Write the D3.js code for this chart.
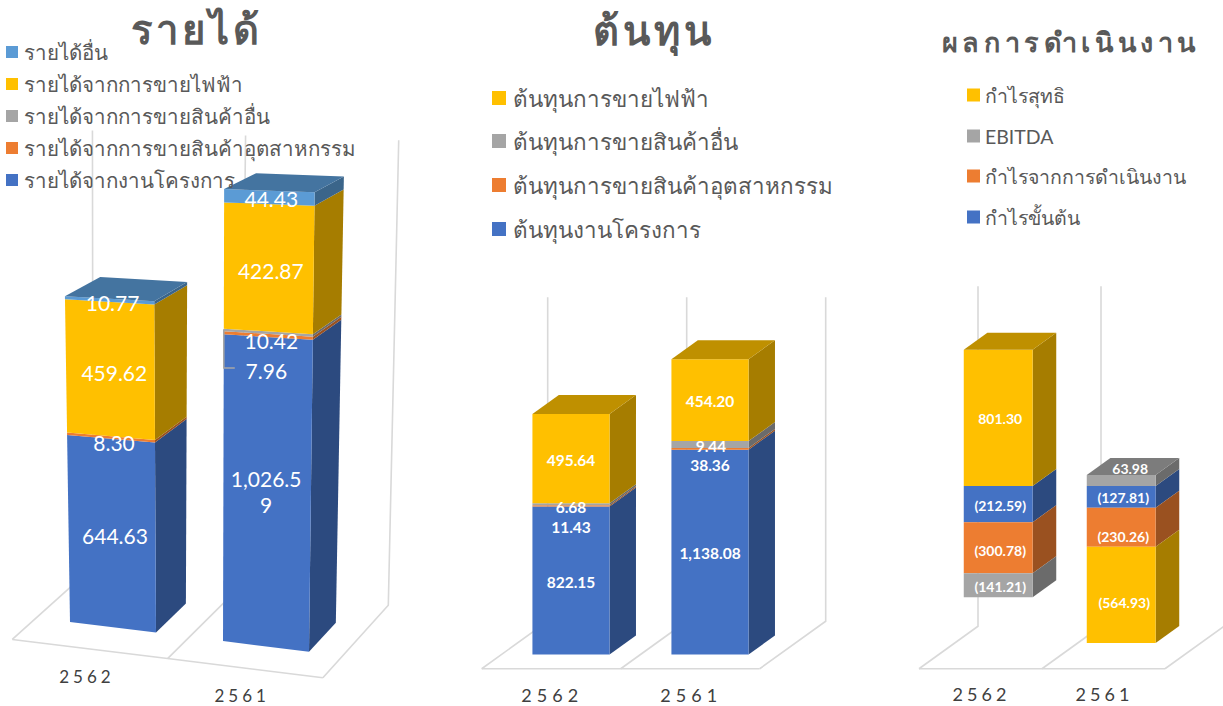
<!DOCTYPE html>
<html>
<head>
<meta charset="utf-8">
<script src="https://cdnjs.cloudflare.com/ajax/libs/d3/7.8.5/d3.min.js"></script>
<style>
body { margin: 0; background: #fff; }
text { font-family: Lato, "Noto Sans", sans-serif; }
</style>
</head>
<body>
<svg id="chart" width="1223" height="706"></svg>
<script>
var years = ["2562", "2561"];

// revenue panel
var revenueNames  = ["รายได้จากงานโครงการ", "รายได้จากการขายสินค้าอุตสาหกรรม", "รายได้จากการขายสินค้าอื่น", "รายได้จากการขายไฟฟ้า", "รายได้อื่น"];
var revenueProject  = [644.63, 1026.59];
var revenueIndustry = [8.30, 10.42];
var revenueGoods    = [0, 7.96];
var revenuePower    = [459.62, 422.87];
var revenueOther    = [10.77, 44.43];

// cost panel
var costNames = ["ต้นทุนงานโครงการ", "ต้นทุนการขายสินค้าอุตสาหกรรม", "ต้นทุนการขายสินค้าอื่น", "ต้นทุนการขายไฟฟ้า"];
var costProject  = [822.15, 1138.08];
var costIndustry = [6.68, 9.44];
var costGoods    = [11.43, 38.36];
var costPower    = [495.64, 454.20];

// results panel
var resultNames = ["กำไรขั้นต้น", "กำไรจากการดำเนินงาน", "EBITDA", "กำไรสุทธิ"];
var resultGross  = [-212.59, -127.81];
var resultOper   = [-300.78, -230.26];
var resultEbitda = [-141.21, 63.98];
var resultNet    = [801.30, -564.93];

var BLUE = "#4472c4", ORANGE = "#ed7d31", GRAY = "#a5a5a5", YELLOW = "#ffc000", SKY = "#5b9bd5";

var panels = [
    { title: "รายได้", titleX: 197, titleY: 44, titleSize: 40, titleSpacing: 4,
      names: revenueNames, series: [revenueProject, revenueIndustry, revenueGoods, revenuePower, revenueOther],
      colors: [BLUE, ORANGE, GRAY, YELLOW, SKY],
      domain: [0, 1600], height: 464, xRange: [36.5, 342.5], barFrac: 0.562,
      y0: 622, xRef: 71, slope: 0.125, stretch: 0.0002, lean: 0.000119, leanFade: 0.2, xv: 201, xvShift: -85,
      dx: 31.6, dxTilt: -0.02, dy: -29, dyH: 0.03,
      labelSize: 21, labelWeight: 400, wrapAt: 7,
      nudge: [[[3, 3], [3, 5], [0, 0], [4, 3], [3, 2]], [[-1, 0], [3, 5], [-2, 38], [2, 3], [2, 1]]],
      yearOff: [-3, 27], yearSize: 17, yearSpacing: 4,
      legend: { x: 6, box: 12, textX: 24, size: 20.5, ys: [52, 84, 116, 148, 180] } },
    { title: "ต้นทุน", titleX: 654, titleY: 45, titleSize: 40, titleSpacing: 4,
      names: costNames, series: [costProject, costIndustry, costGoods, costPower],
      colors: [BLUE, ORANGE, GRAY, YELLOW],
      domain: [0, 1800], height: 324, xRange: [501.5, 779.5], barFrac: 0.555,
      y0: 654.5, xRef: 501, slope: 0, stretch: 0, lean: 0, leanFade: 0, xv: 0, xvShift: 0,
      dx: 26.4, dxTilt: 0, dy: -19, dyH: 0,
      labelSize: 15.5, labelWeight: 700, wrapAt: 99,
      nudge: [[[0, 1], [0, 1], [0, 23], [0, 1]], [[0, 1], [1, -3], [0, 21], [0, 1]]],
      yearOff: [1, 26], yearSize: 18, yearSpacing: 5,
      legend: { x: 492, box: 14, textX: 513, size: 22.4, ys: [98, 141, 185, 229] } },
    { title: "ผลการดำเนินงาน", titleX: 1071, titleY: 52, titleSize: 27, titleSpacing: 4.6,
      names: resultNames, series: [resultGross, resultOper, resultEbitda, resultNet],
      colors: [BLUE, ORANGE, GRAY, YELLOW],
      domain: [-1000, 1000], height: 340, xRange: [936.7, 1182.7], barFrac: 0.56,
      y0: 656, xRef: 936, slope: 0, stretch: 0, lean: 0, leanFade: 0, xv: 0, xvShift: 0,
      dx: 23.6, dxTilt: 0, dy: -17, dyH: 0,
      labelSize: 14, labelWeight: 700, wrapAt: 99,
      nudge: [[[2, 1], [2, 3], [2, 1], [2, 1]], [[2, 1], [2, 9], [9, -12], [3, 8]]],
      yearOff: [1, 25], yearSize: 18, yearSpacing: 4,
      legend: { x: 967, box: 13, textX: 985, size: 19.5, ys: [95, 136, 176, 217] } }
];

var svg = d3.select("#chart");

function project(p, X, H, d) {
    var xv = p.xv + p.xvShift * d;
    var x0 = xv + (X - xv) * (1 + p.lean * (1 - p.leanFade * d) * H);
    var dx = p.dx + p.dxTilt * (X - p.xRef);
    var dy = p.dy + p.dyH * H;
    return [x0 + dx * d, p.y0 + p.slope * (X - p.xRef) - H * (1 + p.stretch * (X - p.xRef)) + dy * d];
}

function shade(c, f) {
    var r = d3.rgb(c);
    return d3.rgb(r.r * f, r.g * f, r.b * f).formatHex();
}

function fmt(v) {
    var s = d3.format(",.2f")(Math.abs(v));
    return v < 0 ? "(" + s + ")" : s;
}

function draw_panel(p) {
    var g = svg.append("g");
    var keys = p.series.map(function(s, i) { return i; });
    var rows = years.map(function(y, j) {
        var row = { year: y };
        keys.forEach(function(k) { row[k] = p.series[k][j]; });
        return row;
    });
    var stacked = d3.stack().keys(keys).offset(d3.stackOffsetDiverging)(rows);

    var xBand = d3.scaleBand().domain(years).range(p.xRange);
    var yH = d3.scaleLinear().domain(p.domain).range([0, p.height]);
    var line = d3.line();

    // floor and back wall
    var frame = g.append("g").attr("fill", "none").attr("stroke", "#d9d9d9").attr("stroke-width", 1.6);
    var ticks = [p.xRange[0], p.xRange[0] + xBand.step(), p.xRange[1]];
    frame.append("path").attr("d", line(ticks.map(function(t) { return project(p, t, 0, -0.75); })));
    ticks.forEach(function(t) {
        frame.append("path").attr("d", line([project(p, t, 0, -0.75), project(p, t, 0, 1.75), project(p, t, p.height, 1.75)]));
    });

    // bars
    var bw = xBand.bandwidth() * p.barFrac;
    years.forEach(function(y, j) {
        var xc = xBand(y) + xBand.bandwidth() / 2, x0 = xc - bw / 2, x1 = xc + bw / 2;
        var bar = g.append("g");
        var top = null;
        stacked.forEach(function(s) {
            var v0 = s[j][0], v1 = s[j][1];
            if (v0 === v1) return;
            var h0 = yH(v0), h1 = yH(v1);
            bar.append("path").attr("fill", shade(p.colors[s.key], 0.65))
                .attr("d", line([project(p, x1, h0, 0), project(p, x1, h0, 1), project(p, x1, h1, 1), project(p, x1, h1, 0)]) + "Z");
            bar.append("path").attr("fill", p.colors[s.key])
                .attr("d", line([project(p, x0, h0, 0), project(p, x1, h0, 0), project(p, x1, h1, 0), project(p, x0, h1, 0)]) + "Z");
            if (top === null || v1 > top.v) top = { v: v1, c: p.colors[s.key] };
        });
        var ht = yH(top.v);
        bar.append("path").attr("fill", shade(top.c, 0.75))
            .attr("d", line([project(p, x0, ht, 0), project(p, x1, ht, 0), project(p, x1, ht, 1), project(p, x0, ht, 1)]) + "Z");

        var fp = project(p, xc, 0, -0.75);
        g.append("text").attr("x", fp[0] + p.yearOff[0]).attr("y", fp[1] + p.yearOff[1])
            .attr("text-anchor", "middle").attr("dominant-baseline", "central")
            .attr("fill", "#404040").style("font-size", p.yearSize + "px").style("letter-spacing", p.yearSpacing + "px")
            .text(y);
    });

    // value labels go on top of everything
    years.forEach(function(y, j) {
        var xc = xBand(y) + xBand.bandwidth() / 2;
        stacked.forEach(function(s) {
            var v0 = s[j][0], v1 = s[j][1];
            if (v0 === v1) return;
            var pos = project(p, xc, yH((v0 + v1) / 2), 0);
            var nudge = p.nudge[j][s.key];
            var txt = fmt(p.series[s.key][j]);
            var parts = txt.length > p.wrapAt ? [txt.slice(0, p.wrapAt), txt.slice(p.wrapAt)] : [txt];
            var t = g.append("text").attr("text-anchor", "middle").attr("fill", "#fff")
                .style("font-size", p.labelSize + "px").style("font-weight", p.labelWeight);
            parts.forEach(function(part, i) {
                t.append("tspan").attr("x", pos[0] + nudge[0])
                    .attr("y", pos[1] + nudge[1] + (i - (parts.length - 1) / 2) * p.labelSize * 1.25)
                    .attr("dominant-baseline", "central").text(part);
            });
        });
    });

    // title
    g.append("text").attr("x", p.titleX).attr("y", p.titleY).attr("text-anchor", "middle")
        .attr("fill", "#595959").style("font-size", p.titleSize + "px").style("font-weight", 700)
        .style("letter-spacing", p.titleSpacing + "px").text(p.title);

    // legend, top entry is the last series
    var order = keys.slice().reverse();
    order.forEach(function(k, i) {
        var ly = p.legend.ys[i];
        g.append("rect").attr("x", p.legend.x).attr("y", ly - p.legend.box / 2)
            .attr("width", p.legend.box).attr("height", p.legend.box).attr("fill", p.colors[k]);
        g.append("text").attr("x", p.legend.textX).attr("y", ly).attr("dominant-baseline", "central")
            .attr("fill", "#595959").style("font-size", p.legend.size + "px").text(p.names[k]);
    });
}

panels.forEach(draw_panel);

// leader for the moved 7.96 label
var rp = panels[0];
var ry = d3.scaleLinear().domain(rp.domain).range([0, rp.height]);
var rx = d3.scaleBand().domain(years).range(rp.xRange);
var rxl = rx("2561") + rx.bandwidth() * (1 - rp.barFrac) / 2;
var rTop = project(rp, rxl, ry(revenueProject[1] + revenueIndustry[1] + revenueGoods[1] / 2), 0);
svg.append("path").attr("fill", "none").attr("stroke", "#a6a6a6").attr("stroke-width", 1.6)
    .attr("d", d3.line()([[rTop[0] + 2, rTop[1]], [rTop[0], rTop[1]], [rTop[0], rTop[1] + 38], [rTop[0] + 11, rTop[1] + 38]]));
</script>
</body>
</html>
